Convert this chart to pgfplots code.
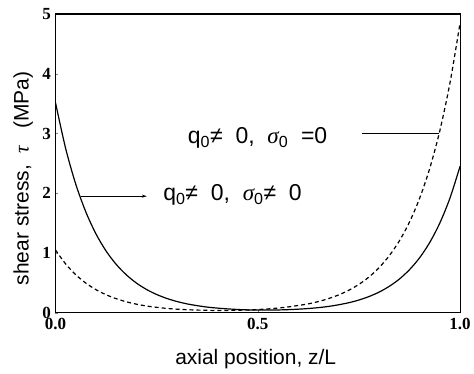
\documentclass[border=0pt]{standalone}
\usepackage{pgfplots}
\pgfplotsset{compat=1.18}
\usepackage{fontspec}
\setmainfont{Liberation Sans}
\newfontfamily\tickfont{Liberation Serif}
\usetikzlibrary{arrows.meta}
\newcommand{\sig}{{\tickfont\itshape σ}\textsubscript{0}}

\begin{document}
\begin{tikzpicture}
\begin{axis}[
    name=ax,
    scale only axis,
    width=405pt,
    height=299pt,
    xmin=0, xmax=1,
    ymin=0, ymax=5,
    xtick={0,0.5,1},
    ytick={0,1,2,3,4,5},
    xticklabels={0.0,0.5,1.0},
    /pgf/number format/assume math mode=true,
    tick label style={font=\tickfont\bfseries\fontsize{17}{19}\selectfont},
    xticklabel style={yshift=-2pt},
    yticklabel style={xshift=-1pt},
    tick align=inside,
    major tick length=3pt,
    xtick pos=bottom,
    ytick pos=left,
    axis line style={line width=1.1pt},
    xlabel={axial position, z/L},
    ylabel={shear stress,\ \ {\tickfont\itshape τ}\ \ \ (MPa)},
    label style={font=\fontsize{21}{24}\selectfont},
    xlabel style={at={(axis description cs:0.495,-0.154)}, anchor=center},
    ylabel style={at={(axis description cs:-0.08,0.45)}, anchor=center},
]

% q0 != 0, sigma0 != 0 (solid)
\addplot[black, line width=1.2pt, smooth] coordinates {
    (0.000,3.520) (0.025,2.755) (0.050,2.156) (0.075,1.688) (0.100,1.321)
    (0.125,1.034) (0.150,0.810) (0.175,0.635) (0.200,0.497) (0.225,0.389)
    (0.250,0.305) (0.275,0.239) (0.300,0.188) (0.325,0.148) (0.350,0.118)
    (0.375,0.094) (0.400,0.077) (0.425,0.064) (0.450,0.054) (0.475,0.047)
    (0.500,0.044) (0.525,0.044) (0.550,0.046) (0.575,0.051) (0.600,0.059)
    (0.625,0.070) (0.650,0.085) (0.675,0.105) (0.700,0.133) (0.725,0.167)
    (0.750,0.212) (0.775,0.271) (0.800,0.345) (0.825,0.441) (0.850,0.563)
    (0.875,0.720) (0.900,0.919) (0.925,1.175) (0.950,1.501) (0.975,1.918)
    (1.000,2.450)
};

% q0 != 0, sigma0 = 0 (dashed)
\addplot[black, line width=1.2pt, smooth, dash pattern=on 4pt off 3pt] coordinates {
    (0.000,1.050) (0.025,0.818) (0.050,0.637) (0.075,0.496) (0.100,0.386)
    (0.125,0.301) (0.150,0.235) (0.175,0.183) (0.200,0.143) (0.225,0.112)
    (0.250,0.090) (0.275,0.072) (0.300,0.059) (0.325,0.050) (0.350,0.044)
    (0.375,0.040) (0.400,0.037) (0.425,0.038) (0.450,0.041) (0.475,0.046)
    (0.500,0.053) (0.525,0.063) (0.550,0.078) (0.575,0.096) (0.600,0.121)
    (0.625,0.148) (0.650,0.187) (0.675,0.236) (0.700,0.298) (0.725,0.376)
    (0.750,0.474) (0.775,0.598) (0.800,0.755) (0.825,0.953) (0.850,1.202)
    (0.875,1.517) (0.900,1.914) (0.925,2.414) (0.950,3.046) (0.975,3.844)
    (1.000,4.850)
};

% annotations
\draw[line width=0.9pt] (axis cs:0.757,3.0) -- (axis cs:0.947,3.0);
\node[anchor=west, inner sep=0pt, font=\fontsize{23}{27}\selectfont]
    at (axis cs:0.327,2.93) {q\textsubscript{0}≠\ \ 0,\ \ \sig\ \ =0};
\draw[line width=0.9pt, -{Stealth[length=5pt,width=3pt]}] (axis cs:0.062,1.95) -- (axis cs:0.226,1.95);
\node[anchor=west, inner sep=0pt, font=\fontsize{23}{27}\selectfont]
    at (axis cs:0.266,1.97) {q\textsubscript{0}≠\ \ 0,\ \ \sig≠\ \ 0};
\end{axis}
\path ([xshift=-55.5pt,yshift=-61pt]ax.south west) rectangle ([xshift=13pt,yshift=14pt]ax.north east);
\end{tikzpicture}
\end{document}
